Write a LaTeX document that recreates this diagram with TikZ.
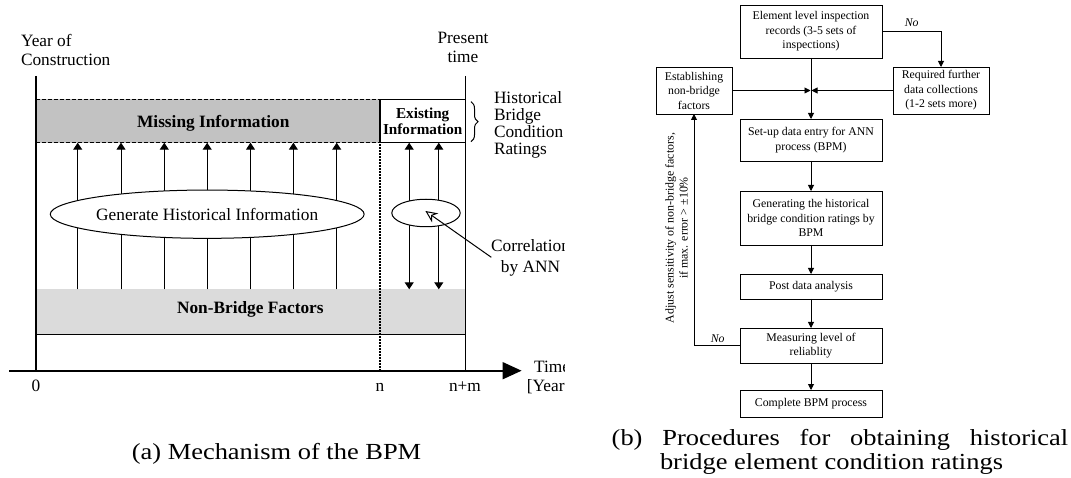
\documentclass[tikz,border=0pt]{standalone}
\usepackage{fontspec}
\setmainfont{Liberation Serif}
\newfontfamily\capfont[FakeStretch=1.15]{Liberation Serif}
\usetikzlibrary{arrows.meta,decorations.pathreplacing,shapes.geometric}
\begin{document}
\begin{tikzpicture}[x=1pt,y=-1pt,
  ltxt/.style={inner sep=0pt,outer sep=0pt,font=\fontsize{17.3}{19}\selectfont},
  btxt/.style={inner sep=0pt,outer sep=0pt,font=\bfseries\fontsize{17.3}{19}\selectfont},
  etxt/.style={inner sep=0pt,outer sep=0pt,font=\bfseries\fontsize{15.2}{16}\selectfont},
  upar/.style={line width=1pt,-{Triangle[length=7pt,width=9pt]}},
  dbar/.style={line width=1pt,{Triangle[length=7pt,width=9pt]}-{Triangle[length=7pt,width=9pt]}},
  bigline/.style={line width=1.3pt},
  band/.style={draw=none,inner sep=0pt,outer sep=0pt},
  dashline/.style={line width=1.3pt,dash pattern=on 4pt off 2pt},
  dotline/.style={line width=1.3pt,dash pattern=on 1.3pt off 1.7pt},
  fbox/.style={draw,line width=0.9pt,inner sep=0pt,outer sep=0pt,align=center,font=\fontsize{11.8}{14.5}\selectfont},
  flow/.style={line width=0.9pt,-{Triangle[length=6pt,width=6pt]}},
  notxt/.style={inner sep=0pt,outer sep=0pt,font=\itshape\fontsize{11.8}{14}\selectfont},
  captxt/.style={inner sep=0pt,outer sep=0pt}
]
\useasboundingbox (0,0) rectangle (1071,478);

% ---------------- left panel ----------------
\begin{scope}
\clip (0,0) rectangle (564,478);
\node[band,fill=gray!48,minimum width=344.1pt,minimum height=43.4pt] (miss) at (207.95,121) {};
\node[band,fill=gray!28,minimum width=429.5pt,minimum height=44.7pt] (nbf) at (250.65,311.65) {};
\node[draw,line width=1.1pt,inner sep=0pt,outer sep=0pt,minimum width=85.4pt,minimum height=43.4pt] (exist) at (422.7,121) {};
\draw[dashline] (miss.north west) -- (miss.north east);
\draw[dashline] (miss.south west) -- (miss.south east);
\draw[line width=0.8pt] (nbf.south west) -- (nbf.south east);

\coordinate (lt) at (35.9,76);
\coordinate (rt) at (465.4,76);
\coordinate (o) at (35.9,370.7);
\coordinate (nn) at (380,370.7);
\coordinate (nm) at (465.4,370.7);
\coordinate (ax0) at (9.2,370.7);
\coordinate (ax1) at (521.6,370.7);
\draw[bigline] (lt) -- (o);
\draw[bigline] (rt) -- (nm);
\draw[dotline] (miss.north east) -- (nn);
\draw[line width=1.6pt,-{Triangle[length=19pt,width=17pt]}] (ax0) -- (ax1);

\foreach \x in {77.7,121,164.3,207.2,250.5,293.4,336.7}
  \draw[upar] (\x,0 |- nbf.north) -- (\x,0 |- miss.south);
\foreach \x in {409.2,438.8}
  \draw[dbar] (\x,0 |- nbf.north) -- (\x,0 |- exist.south);

\node[ellipse,draw,fill=white,line width=1pt,minimum width=292.3pt,minimum height=48.3pt,ltxt] (genh) at (207.2,214.2) {Generate Historical Information};
\node[ellipse,draw,fill=white,line width=1pt,minimum width=68.4pt,minimum height=27.5pt,inner sep=0pt] (ann) at (426,213) {};
\coordinate (annp) at (425.4,211);
\coordinate (corrp) at (491.3,257.3);
\draw[line width=1pt,-{Stealth[open,length=12pt,width=11pt]}] (corrp) -- (annp);

\coordinate (br1) at (471,101.7);
\coordinate (br2) at (471,141.7);
\draw[line width=1pt,decorate,decoration={brace,amplitude=7pt}] (br1) -- (br2);

\node[ltxt,anchor=base west] (yoc1) at (21,46.7) {Year of};
\node[ltxt,anchor=base west] (yoc2) at (21,65.7) {Construction};
\node[ltxt,anchor=base] (pt1) at (463,43.3) {Present};
\node[ltxt,anchor=base] (pt2) at (463,62.7) {time};
\node[ltxt,anchor=base west] (hb1) at (494,104) {Historical};
\node[ltxt,anchor=base west] (hb2) at (494,121) {Bridge};
\node[ltxt,anchor=base west] (hb3) at (494,138) {Condition};
\node[ltxt,anchor=base west] (hb4) at (494,155) {Ratings};
\node[btxt,anchor=base] (misst) at (213.3,127.3) {Missing Information};
\node[etxt,anchor=base] (ex1) at (422.7,118.3) {Existing};
\node[etxt,anchor=base] (ex2) at (422.7,134.3) {Information};
\node[btxt,anchor=base] (nbft) at (250.3,314) {Non-Bridge Factors};
\node[ltxt,anchor=base] (corr1) at (530.5,251.7) {Correlation};
\node[ltxt,anchor=base] (corr2) at (530.5,272.3) {by ANN};
\node[ltxt,anchor=base] (l0) at (35.9,391) {0};
\node[ltxt,anchor=base] (ln) at (380,391) {n};
\node[ltxt,anchor=base] (lnm) at (465,391) {n+m};
\node[ltxt,anchor=base] (tm1) at (552,372) {Time};
\node[ltxt,anchor=base] (tm2) at (552,391) {[Years]};
\end{scope}
\node[captxt,anchor=base,font=\capfont\fontsize{23}{25}\selectfont] (capa) at (276.5,459) {(a) Mechanism of the BPM};

% ---------------- right panel ----------------
\node[fbox,minimum width=142pt,minimum height=53pt] (b1) at (811,31.5) {Element level inspection\\records (3-5 sets of\\inspections)};
\node[fbox,minimum width=76pt,minimum height=47pt] (est) at (694,90.5) {Establishing\\non-bridge\\factors};
\node[fbox,minimum width=96pt,minimum height=47pt] (req) at (941,90.5) {Required further\\data collections\\(1-2 sets more)};
\node[fbox,minimum width=142pt,minimum height=42pt] (setup) at (811,140) {Set-up data entry for ANN\\process (BPM)};
\node[fbox,minimum width=142pt,minimum height=54pt] (gen) at (811,218) {Generating the historical\\bridge condition ratings by\\BPM};
\node[fbox,minimum width=142pt,minimum height=25pt] (post) at (811,286.5) {Post data analysis};
\node[fbox,minimum width=142pt,minimum height=35pt] (meas) at (811,345.5) {Measuring level of\\reliablity};
\node[fbox,minimum width=142pt,minimum height=27pt] (comp) at (811,403.5) {Complete BPM process};

\coordinate (jn) at (811,90.5);
\draw[flow] (b1.south) -- (setup.north);
\draw[flow] (est.east) -- ([xshift=-0.5pt]jn);
\draw[flow] (req.west) -- ([xshift=0.5pt]jn);
\draw[flow] (b1.east) -| (req.north);
\draw[flow] (setup.south) -- (gen.north);
\draw[flow] (gen.south) -- (post.north);
\draw[flow] (post.south) -- (meas.north);
\draw[flow] (meas.south) -- (comp.north);
\draw[flow] (meas.west) -| (est.south);
\node[notxt,anchor=base] (no1) at (911.7,27) {No};
\node[notxt,anchor=base] (no2) at (717.7,342) {No};
\node[rotate=90,align=center,inner sep=0pt,font=\fontsize{11.9}{14}\selectfont] (adj) at (676.5,228) {Adjust sensitivity of non-bridge factors,\\if max. error > ±10\%};

\node[captxt,anchor=base west,font=\capfont\fontsize{23}{25}\selectfont] (capb1) at (611.7,445) {\makebox[456.6pt][s]{(b) Procedures for obtaining historical}};
\node[captxt,anchor=base west,font=\capfont\fontsize{23}{25}\selectfont] (capb2) at (660,469) {bridge element condition ratings};
\end{tikzpicture}
\end{document}
